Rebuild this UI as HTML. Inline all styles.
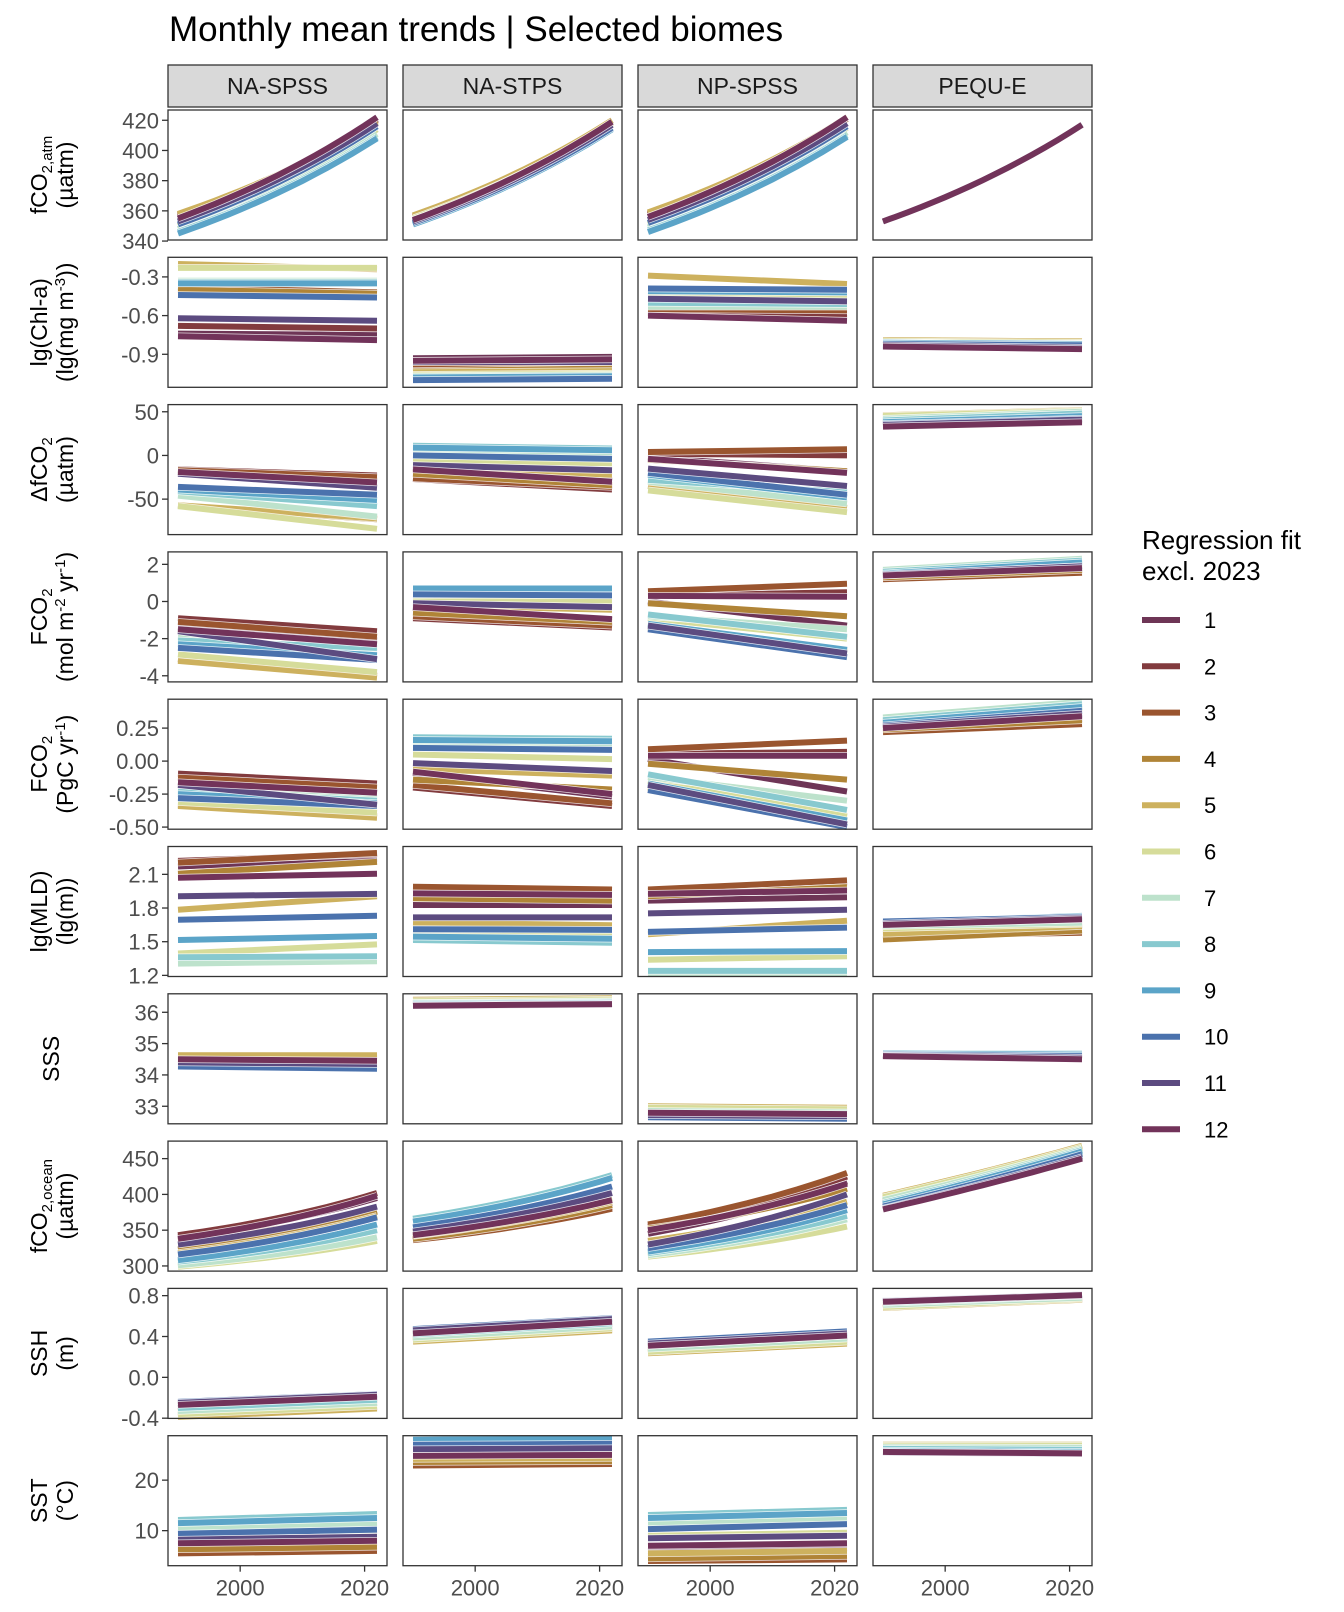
<!DOCTYPE html>
<html><head><meta charset="utf-8">
<style>
html,body{margin:0;padding:0;background:#fff;}
svg{display:block;font-family:"Liberation Sans",sans-serif;}
</style></head>
<body>
<svg id="chart" width="1344" height="1612" viewBox="0 0 1344 1612" xmlns="http://www.w3.org/2000/svg">
<text x="169" y="41" font-size="35" fill="#000">Monthly mean trends | Selected biomes</text>
<g id="legend">
<text x="1142" y="549" font-size="26" fill="#000">Regression fit</text>
<text x="1142" y="580" font-size="26" fill="#000">excl. 2023</text>
</g>
</svg>
<script>
const biomes = ["NA-SPSS","NA-STPS","NP-SPSS","PEQU-E"];
const months = ["1","2","3","4","5","6","7","8","9","10","11","12"];
const monthColors = ["#6e3556","#823b3e","#9a552f","#b08437","#cdb15e","#d6dc9a","#bde2cc","#88c9cf","#5ba4c8","#4b72ad","#5c4b80","#72335a"];
const yearStart = 1990, yearEnd = 2022;
const xTicks = [2000, 2020];

// ---- data: per row, per biome, 12 monthly fit values at 1990 (start) and 2022 (end)
const fco2atmStart = [[355,356,357,358,358,350,348,346,345,351,353,355],[354,355,356,357,357,355,354,352,351,352,353,354],[356,357,358,359,359,351,349,347,346,352,354,356],[353,353,353,353,353,353,353,353,353,353,353,353]];
const fco2atmEnd = [[421,421,420,419,419,414,411,409,408,416,418,422],[419,419,420,420,420,418,417,415,414,415,417,419],[421,421,421,422,422,415,412,410,409,416,418,422],[417,417,417,417,417,417,417,417,417,417,417,417]];
const chlStart = [[-0.74,-0.68,-0.38,-0.40,-0.20,-0.23,-0.33,-0.34,-0.35,-0.44,-0.62,-0.76],[-0.93,-0.95,-1.00,-1.03,-1.04,-1.06,-1.07,-1.09,-1.08,-1.10,-0.96,-0.95],[-0.58,-0.57,-0.55,-0.44,-0.29,-0.45,-0.53,-0.50,-0.41,-0.39,-0.47,-0.60],[-0.84,-0.83,-0.79,-0.79,-0.79,-0.80,-0.81,-0.81,-0.81,-0.82,-0.83,-0.84]];
const chlEnd = [[-0.75,-0.70,-0.42,-0.43,-0.24,-0.23,-0.33,-0.34,-0.35,-0.46,-0.64,-0.79],[-0.92,-0.95,-0.99,-1.01,-1.03,-1.05,-1.06,-1.07,-1.07,-1.09,-0.96,-0.94],[-0.62,-0.59,-0.56,-0.45,-0.355,-0.45,-0.53,-0.51,-0.42,-0.40,-0.49,-0.64],[-0.85,-0.84,-0.80,-0.80,-0.80,-0.81,-0.82,-0.82,-0.82,-0.83,-0.85,-0.86]];
const dfco2Start = [[-19,-16,-17,-58,-57,-58,-46,-41,-39,-36,-21,-19],[-14,-27,-26,-21,-15,-6,4,11,9,0,-11,-16],[-2,2,4,-5,-35,-40,-30,-28,-22,-20,-15,-4],[34,37,40,44,46,45,42,40,38,36,35,33]];
const dfco2End = [[-29,-23,-25,-73,-72,-84,-70,-58,-51,-45,-37,-31],[-29,-39,-36,-34,-22,-9,3,8,6,-4,-17,-30],[-18,0,7,-18,-60,-65,-55,-42,-48,-45,-35,-20],[40,42,45,50,52,51,50,48,45,42,41,38]];
const fco2molStart = [[-1.4,-0.9,-1.1,-3.1,-3.2,-2.85,-1.9,-2.1,-2.3,-2.5,-1.6,-1.5],[-0.35,-0.9,-0.8,-0.6,-0.2,0.0,0.55,0.7,0.7,0.38,-0.1,-0.3],[0.0,0.3,0.55,-0.1,-1.4,-0.9,-0.8,-0.7,-1.2,-1.5,-1.3,0.3],[1.4,1.3,1.2,1.3,1.5,1.6,1.7,1.6,1.5,1.4,1.45,1.4]];
const fco2molEnd = [[-2.1,-1.6,-1.9,-4.0,-4.1,-3.8,-2.7,-2.5,-2.9,-3.15,-3.1,-2.3],[-1.0,-1.4,-1.3,-1.1,-0.45,0.0,0.55,0.7,0.7,0.33,-0.3,-0.95],[-1.3,0.5,0.95,-0.8,-2.7,-2.0,-1.5,-1.9,-2.6,-3.0,-2.8,0.25],[1.8,1.7,1.55,1.7,2.0,2.2,2.3,2.2,2.1,1.9,1.9,1.8]];
const fco2pgcStart = [[-0.16,-0.095,-0.125,-0.33,-0.34,-0.31,-0.215,-0.23,-0.25,-0.28,-0.18,-0.16],[-0.09,-0.2,-0.18,-0.14,-0.06,0.05,0.13,0.18,0.16,0.1,-0.015,-0.08],[0.015,0.055,0.09,-0.02,-0.2,-0.15,-0.12,-0.1,-0.17,-0.22,-0.18,0.04],[0.25,0.24,0.22,0.24,0.28,0.30,0.33,0.31,0.29,0.27,0.26,0.25]];
const fco2pgcEnd = [[-0.24,-0.17,-0.2,-0.42,-0.43,-0.39,-0.28,-0.30,-0.32,-0.34,-0.33,-0.24],[-0.27,-0.34,-0.32,-0.215,-0.11,0.015,0.12,0.17,0.15,0.085,-0.075,-0.25],[-0.23,0.07,0.155,-0.14,-0.45,-0.42,-0.3,-0.37,-0.45,-0.5,-0.48,0.04],[0.35,0.32,0.28,0.31,0.40,0.42,0.45,0.43,0.41,0.38,0.36,0.34]];
const mldStart = [[2.17,2.22,2.205,2.106,1.785,1.395,1.305,1.362,1.515,1.695,1.905,2.07],[1.827,1.975,1.99,1.887,1.671,1.56,1.53,1.515,1.545,1.611,1.716,1.93],[1.866,1.95,1.965,1.905,1.566,1.34,1.22,1.24,1.407,1.587,1.752,1.926],[1.63,1.6,1.55,1.52,1.57,1.62,1.64,1.66,1.67,1.68,1.66,1.65]];
const mldEnd = [[2.24,2.28,2.29,2.211,1.905,1.476,1.326,1.371,1.551,1.731,1.926,2.106],[1.827,1.96,1.965,1.866,1.647,1.55,1.51,1.49,1.527,1.605,1.716,1.917],[1.896,2.03,2.046,1.986,1.686,1.37,1.22,1.24,1.416,1.626,1.785,1.956],[1.67,1.65,1.58,1.6,1.64,1.66,1.67,1.7,1.73,1.72,1.71,1.7]];
const sssStart = [[34.5,34.55,34.6,34.63,34.63,34.45,34.4,34.35,34.3,34.27,34.4,34.5],[36.21,36.25,36.3,36.38,36.4,36.35,36.3,36.28,36.25,36.22,36.2,36.21],[32.79,32.85,32.9,32.97,33.0,32.95,32.85,32.75,32.7,32.65,32.72,32.79],[34.6,34.6,34.62,34.63,34.65,34.68,34.7,34.7,34.68,34.65,34.62,34.6]];
const sssEnd = [[34.45,34.5,34.55,34.62,34.63,34.42,34.35,34.3,34.25,34.2,34.35,34.45],[36.26,36.3,36.35,36.42,36.45,36.4,36.35,36.32,36.3,36.27,36.25,36.26],[32.75,32.8,32.85,32.92,32.95,32.9,32.8,32.7,32.65,32.6,32.68,32.75],[34.5,34.52,34.55,34.58,34.6,34.64,34.68,34.68,34.65,34.6,34.55,34.5]];
const fco2oceanStart = [[340,343,336,323,318,299,301,306,308,316,330,338],[340,337,336,338,342,346,355,366,362,354,348,343],[345,355,358,352,335,313,315,318,320,325,330,350],[382,386,390,394,398,396,392,388,386,383,380,379]];
const fco2oceanEnd = [[395,402,376,376,370,335,340,350,358,368,383,398],[388,383,380,385,390,395,410,427,423,411,402,392],[418,425,430,408,390,355,365,370,378,385,400,415],[454,458,462,465,468,466,464,462,460,456,452,450]];
const sshStart = [[-0.28,-0.3,-0.33,-0.37,-0.387,-0.36,-0.33,-0.3,-0.26,-0.24,-0.25,-0.27],[0.426,0.41,0.38,0.36,0.35,0.37,0.39,0.42,0.45,0.472,0.46,0.43],[0.3,0.29,0.27,0.25,0.235,0.25,0.28,0.31,0.33,0.35,0.33,0.31],[0.73,0.71,0.69,0.68,0.68,0.69,0.71,0.73,0.74,0.75,0.745,0.74]];
const sshEnd = [[-0.2,-0.22,-0.25,-0.29,-0.305,-0.28,-0.25,-0.22,-0.18,-0.164,-0.17,-0.19],[0.54,0.52,0.49,0.47,0.46,0.48,0.5,0.53,0.56,0.58,0.57,0.545],[0.4,0.39,0.37,0.345,0.33,0.35,0.38,0.41,0.43,0.45,0.43,0.41],[0.8,0.78,0.77,0.76,0.76,0.77,0.78,0.8,0.81,0.81,0.81,0.805]];
const sstStart = [[7.0,6.0,5.5,6.3,7.8,8.8,10.5,12.1,11.5,9.4,8.2,7.5],[24.6,24.0,22.9,23.6,24.2,25.5,26.5,27.7,28.0,27.0,26.1,24.8],[6.0,5.0,4.0,4.5,5.5,9.0,11.5,13.1,12.5,10.3,8.5,7.0],[25.7,26.0,26.3,26.7,27.0,26.8,26.5,26.2,25.8,25.6,25.5,25.6]];
const sstEnd = [[7.6,6.5,6.0,6.8,8.3,9.8,11.5,13.3,12.5,10.2,8.8,8.0],[24.8,24.2,23.2,23.8,24.4,25.7,26.8,28.0,28.3,27.2,26.3,25.0],[6.5,5.3,4.3,5.0,6.0,9.6,12.3,14.1,13.5,11.3,9.0,7.5],[25.4,25.8,26.2,26.6,27.0,26.8,26.4,26.0,25.6,25.3,25.2,25.3]];

const rowNames = ["fco2-atm","chl","delta-fco2","fco2-mol","fco2-pgc","mld","sss","fco2-ocean","ssh","sst"];
const rowDomains = [[340.7,426.8],[-1.156,-0.148],[-90.6,58.2],[-4.33,2.67],[-0.516,0.469],[1.19,2.348],[32.44,36.59],[292.8,474.5],[-0.402,0.871],[3.06,28.8]];
const rowTicks = [[340,360,380,400,420],[-0.9,-0.6,-0.3],[-50,0,50],[-4,-2,0,2],[-0.5,-0.25,0,0.25],[1.2,1.5,1.8,2.1],[33,34,35,36],[300,350,400,450],[-0.4,0,0.4,0.8],[10,20]];
const rowTickLabels = [["340","360","380","400","420"],["-0.9","-0.6","-0.3"],["-50","0","50"],["-4","-2","0","2"],["-0.50","-0.25","0.00","0.25"],["1.2","1.5","1.8","2.1"],["33","34","35","36"],["300","350","400","450"],["-0.4","0.0","0.4","0.8"],["10","20"]];
const rowStarts = [fco2atmStart,chlStart,dfco2Start,fco2molStart,fco2pgcStart,mldStart,sssStart,fco2oceanStart,sshStart,sstStart];
const rowEnds = [fco2atmEnd,chlEnd,dfco2End,fco2molEnd,fco2pgcEnd,mldEnd,sssEnd,fco2oceanEnd,sshEnd,sstEnd];
const rowCurvature = [[0.6,0.6,0.6,0.6],[0,0,0,0],[0,0,0,0],[0,0,0,0],[0,0,0,0],[0,0,0,0],[0,0,0,0],[0.8,0.7,0.7,0.2],[0,0,0,0],[0,0,0,0]];

// ---- layout
const NS = "http://www.w3.org/2000/svg";
const svg = document.getElementById("chart");
const colLeft = [168,403,638,873], panelW = 219, panelH = 130;
const rowTop0 = 110, rowStep = 147.3;
const xDom = [1988.4, 2023.6];
function xScale(c, yr){ return colLeft[c] + (yr - xDom[0]) / (xDom[1]-xDom[0]) * panelW; }
function yScale(r, v){ const t = rowTop0 + r*rowStep; const d = rowDomains[r]; return t + panelH - (v - d[0])/(d[1]-d[0])*panelH; }
function mk(tag, attrs, parent){ const e = document.createElementNS(NS, tag); for (const k in attrs) e.setAttribute(k, attrs[k]); (parent||svg).appendChild(e); return e; }

// strips
biomes.forEach((b,c)=>{
  const g = mk("g",{});
  
  
  mk("rect",{x:colLeft[c],y:65,width:panelW,height:42,fill:"#d9d9d9",stroke:"#333","stroke-width":1.3},g);
  const t = mk("text",{x:colLeft[c]+panelW/2,y:94,"text-anchor":"middle","font-size":23,fill:"#1a1a1a"},g);
  t.textContent = b;
});

// y axis titles
const yTitles = [
  ['fCO<tspan dy="5" font-size="15">2,atm</tspan>','(µatm)'],
  ['lg(Chl-a)','(lg(mg m<tspan dy="-8" font-size="15">-3</tspan><tspan dy="8">))</tspan>'],
  ['ΔfCO<tspan dy="5" font-size="15">2</tspan>','(µatm)'],
  ['FCO<tspan dy="5" font-size="15">2</tspan>','(mol m<tspan dy="-8" font-size="15">-2</tspan><tspan dy="8"> yr</tspan><tspan dy="-8" font-size="15">-1</tspan><tspan dy="8">)</tspan>'],
  ['FCO<tspan dy="5" font-size="15">2</tspan>','(PgC yr<tspan dy="-8" font-size="15">-1</tspan><tspan dy="8">)</tspan>'],
  ['lg(MLD)','(lg(m))'],
  ['SSS',null],
  ['fCO<tspan dy="5" font-size="15">2,ocean</tspan>','(µatm)'],
  ['SSH','(m)'],
  ['SST','(°C)']
];
yTitles.forEach((lines,r)=>{
  const cy = rowTop0 + r*rowStep + panelH/2;
  const g = mk("g",{});
  
  
  if (lines[1] === null){
    const t = mk("text",{x:0,y:0,transform:`translate(59,${cy}) rotate(-90)`,"text-anchor":"middle","font-size":23,fill:"#000"},g);
    t.innerHTML = lines[0];
  } else {
    const t1 = mk("text",{x:0,y:0,transform:`translate(47,${cy}) rotate(-90)`,"text-anchor":"middle","font-size":23,fill:"#000"},g);
    t1.innerHTML = lines[0];
    const t2 = mk("text",{x:0,y:0,transform:`translate(73,${cy}) rotate(-90)`,"text-anchor":"middle","font-size":23,fill:"#000"},g);
    t2.innerHTML = lines[1];
  }
});

// y ticks (on first column)
rowTicks.forEach((ticks,r)=>{
  const g = mk("g",{});
  
  
  ticks.forEach((v,i)=>{
    const y = yScale(r,v);
    mk("line",{x1:colLeft[0]-6,x2:colLeft[0],y1:y,y2:y,stroke:"#333","stroke-width":1.3},g);
    const t = mk("text",{x:colLeft[0]-9,y:y+8,"text-anchor":"end","font-size":22,fill:"#4d4d4d"},g);
    t.textContent = rowTickLabels[r][i];
  });
});

// panels
for (let r=0;r<10;r++){
  for (let c=0;c<4;c++){
    const top = rowTop0 + r*rowStep;
    const g = mk("g",{});
    
    
    mk("rect",{x:colLeft[c],y:top,width:panelW,height:panelH,fill:"#fff"},g);
    const starts = rowStarts[r][c], ends = rowEnds[r][c], k = rowCurvature[r][c];
    for (let m=0;m<12;m++){
      const pts = [];
      for (let yr=yearStart; yr<=yearEnd; yr+= (k?2:32)){
        const u = (yr-yearStart)/(yearEnd-yearStart);
        const f = k ? (Math.exp(k*u)-1)/(Math.exp(k)-1) : u;
        const v = starts[m] + (ends[m]-starts[m])*f;
        pts.push(xScale(c,yr).toFixed(1)+","+yScale(r,v).toFixed(1));
      }
      const halo = mk("polyline",{points:pts.join(" "),fill:"none",stroke:"#fff","stroke-width":7.5,"stroke-opacity":0.8},g);
      
      
      const pl = mk("polyline",{points:pts.join(" "),fill:"none",stroke:monthColors[m],"stroke-width":6},g);
      
      
    }
    mk("rect",{x:colLeft[c],y:top,width:panelW,height:panelH,fill:"none",stroke:"#333","stroke-width":1.3},g);
  }
}

// x axis
const bottom = rowTop0 + 9*rowStep + panelH;
for (let c=0;c<4;c++){
  const g = mk("g",{});
  
  
  xTicks.forEach(yr=>{
    const x = xScale(c,yr);
    mk("line",{x1:x,x2:x,y1:bottom,y2:bottom+6,stroke:"#333","stroke-width":1.3},g);
    const t = mk("text",{x:x,y:bottom+30,"text-anchor":"middle","font-size":22,fill:"#4d4d4d"},g);
    t.textContent = String(yr);
  });
}

// legend
const legend = document.getElementById("legend");
months.forEach((m,i)=>{
  const y = 620 + i*46.3;
  const g = mk("g",{},legend);
  
  
  mk("line",{x1:1142,x2:1180,y1:y,y2:y,stroke:monthColors[i],"stroke-width":6},g);
  const t = mk("text",{x:1204,y:y+8,"font-size":22,fill:"#000"},g);
  t.textContent = m;
});
</script>
</body></html>
